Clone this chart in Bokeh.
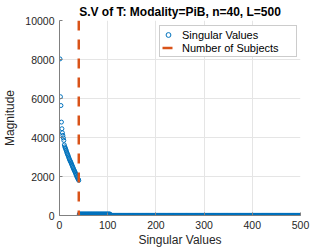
from bokeh.plotting import figure
from bokeh.embed import file_html
from bokeh.resources import INLINE
from bokeh.models import Range1d, Legend, LegendItem, FixedTicker

# ---- data ----
n_subjects = 40
head_values = [8030, 6090, 5640, 4790, 4450, 4240, 4110, 3980, 3850, 3620,
               3520, 3460, 3400, 3330, 3250, 3180, 3120, 3060, 2990, 2920,
               2860, 2800, 2760, 2700, 2640, 2580, 2520, 2460, 2400, 2340,
               2290, 2240, 2180, 2120, 2060, 2000, 1950, 1900, 1850, 1800]
mid_values = [70] * 65        # ranks 41..105, small but non-zero
tail_values = [5] * 395       # ranks 106..500, close to zero
sv_values = head_values + mid_values + tail_values
sv_index = list(range(1, len(sv_values) + 1))
x_ticks = [0, 100, 200, 300, 400, 500]
y_ticks = [0, 2000, 4000, 6000, 8000, 10000]
y_max = 10000
title_text = "S.V of T: Modality=PiB, n=40, L=500"
x_label = "Singular Values"
y_label = "Magnitude"
legend_labels = ["Singular Values", "Number of Subjects"]

BLUE = "#0072BD"
ORANGE = "#D95319"
FONT = "Liberation Sans"
TXT = "#262626"

p = figure(width=332, height=249, output_backend="svg", toolbar_location=None,
           x_range=Range1d(0, 500), y_range=Range1d(0, y_max),
           min_border_left=57, min_border_right=32, min_border_top=18,
           min_border_bottom=34)

p.title.text = title_text
p.title.text_font = FONT
p.title.text_font_size = "12px"
p.title.text_font_style = "bold"
p.title.text_color = "#000000"
p.title.align = "center"
p.title.standoff = 4
p.title.offset = 0

p.outline_line_color = None
p.background_fill_color = "white"
p.border_fill_color = "white"

for ax in (p.xaxis[0], p.yaxis[0]):
    ax.axis_line_color = "#808080"
    ax.major_tick_line_color = "#808080"
    ax.major_tick_in = 3
    ax.major_tick_out = 0
    ax.minor_tick_in = 0
    ax.minor_tick_out = 0
    ax.minor_tick_line_color = None
    ax.major_label_text_font = FONT
    ax.major_label_text_font_size = "10.5px"
    ax.major_label_text_color = TXT
    ax.axis_label_text_font = FONT
    ax.axis_label_text_font_size = "12px"
    ax.axis_label_text_font_style = "normal"
    ax.axis_label_text_color = TXT

p.xaxis.ticker = FixedTicker(ticks=x_ticks)
p.yaxis.ticker = FixedTicker(ticks=y_ticks)
p.xaxis.axis_label = x_label
p.yaxis.axis_label = y_label
p.xaxis.major_label_standoff = 5
p.xaxis.axis_label_standoff = 1
p.yaxis.major_label_standoff = 5
p.yaxis.axis_label_standoff = 5

p.xgrid.grid_line_color = "#e5e5e5"
p.ygrid.grid_line_color = "#e5e5e5"

sc = p.scatter(sv_index, sv_values, marker="circle", size=4,
               line_color=BLUE, fill_color=None, line_width=1)
ln = p.line([n_subjects, n_subjects], [y_max, 0], line_color=ORANGE,
            line_width=2.5, line_dash="10 9")

legend = Legend(items=[LegendItem(label=legend_labels[0] + "     ", renderers=[sc]),
                       LegendItem(label=legend_labels[1] + "     ", renderers=[ln])],
                location=(100, 158))
legend.label_text_font = FONT
legend.label_text_font_size = "11px"
legend.label_text_color = "#000000"
legend.glyph_height = 13
legend.glyph_width = 12
legend.label_height = 13
legend.padding = 2
legend.spacing = 0
legend.margin = 0
legend.label_standoff = 8
legend.border_line_color = "#999999"
legend.background_fill_alpha = 1
p.add_layout(legend, "center")

open("out.html", "w").write(file_html(p, INLINE))
